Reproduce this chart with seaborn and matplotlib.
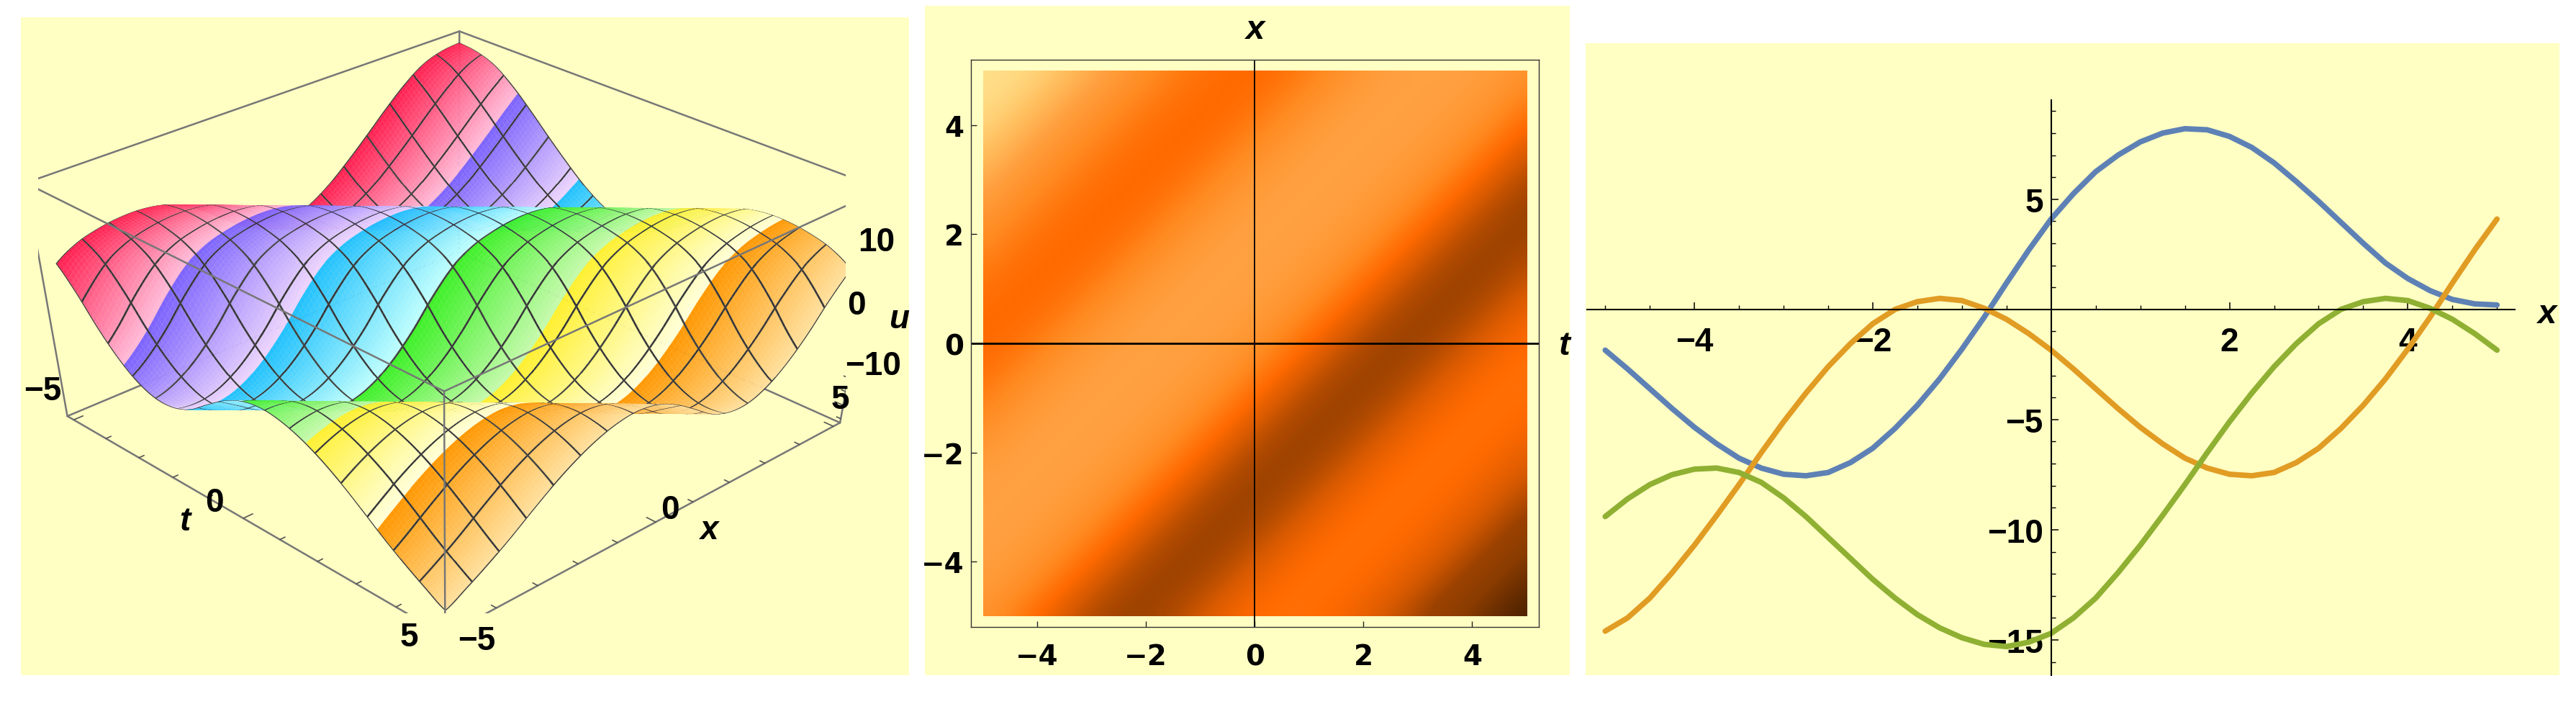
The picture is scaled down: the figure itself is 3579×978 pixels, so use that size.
import numpy as np
import pandas as pd
import matplotlib.pyplot as plt
import seaborn as sns
from matplotlib.colors import LinearSegmentedColormap, to_rgb
from matplotlib.patches import Rectangle
from mpl_toolkits.mplot3d import Axes3D

W, H = 3579, 979

# curves of the right panel, read at x = -5, -4.75, ... 5
x_vals = [-5 + 0.25 * i for i in range(41)]
u_blue = [-1.85, -2.7, -3.6, -4.5, -5.35, -6.1, -6.75, -7.2, -7.48, -7.55, -7.4, -6.95, -6.3, -5.4, -4.35, -3.15, -1.8, -0.35, 1.2, 2.7, 4.1,
          5.25, 6.25, 7.0, 7.6, 8.0, 8.2, 8.15, 7.85, 7.35, 6.65, 5.8, 4.9, 3.95, 3.0, 2.1, 1.4, 0.85, 0.45, 0.25, 0.2]
u_orange = [-14.6, -14.0, -13.1, -11.95, -10.7, -9.35, -7.95, -6.5, -5.1, -3.8, -2.6, -1.55, -0.65, 0.0, 0.35, 0.5, 0.4, 0.05, -0.45, -1.1, -1.85,
            -2.7, -3.6, -4.5, -5.35, -6.1, -6.75, -7.2, -7.48, -7.55, -7.4, -6.95, -6.3, -5.4, -4.35, -3.15, -1.8, -0.35, 1.2, 2.7, 4.1]
u_green = [-9.4, -8.6, -7.95, -7.5, -7.25, -7.2, -7.4, -7.85, -8.55, -9.4, -10.35, -11.3, -12.25, -13.1, -13.85, -14.45, -14.9, -15.2, -15.3, -15.1, -14.7,
           -14.0, -13.1, -11.95, -10.7, -9.35, -7.95, -6.5, -5.1, -3.8, -2.6, -1.55, -0.65, 0.0, 0.35, 0.5, 0.4, 0.05, -0.45, -1.1, -1.85]

# u along s = x - t, read at s = -10, -9.5, ... 10
profile_s = [-10 + 0.5 * i for i in range(41)]
profile_u = [-10.4, -8.8, -7.0, -5.0, -2.8, -0.7, 1.1, 2.5, 3.4, 3.7, 3.2, 1.9, 0.0, -2.0, -3.1, -3.2, -2.2, -0.2, 2.6, 6.0, 8.8,
             10.4, 11.2, 11.6, 11.6, 11.1, 9.9, 7.9, 5.6, 3.7, 2.8, 3.0, 4.1, 5.8, 8.0, 10.4, 12.9, 15.2, 17.0, 17.9, 18.2]

heat_ticks = [-4, -2, 0, 2, 4]
curve_xticks = [-4, -2, 2, 4]
curve_yticks = [-15, -10, -5, 5]
box_ticks = [-5, 0, 5]

stripe_start = ['#ff1e50', '#7d64ff', '#1ec0ff', '#3cf028', '#fff032', '#ff9600']
stripe_end = ['#ffbedc', '#ebd4ff', '#c0ffff', '#c8fab0', '#ffffd8', '#ffe1a0']

heat_levels = [-10.4, -6, -3.2, 0, 3, 7, 11.4, 15, 18.2]
heat_colors = ['#4a2000', '#8a3c00', '#9c4200', '#d85a00', '#ff6a00', '#ff8a20', '#ffa040', '#ffc060', '#ffe08a']

PANEL = '#ffffc3'
sns.set_theme(style='white')
plt.rcParams['font.family'] = ['Liberation Sans', 'DejaVu Sans']
plt.rcParams['font.weight'] = 'bold'

fig = plt.figure(figsize=(W / 100, H / 100), dpi=100)


def rect(l, t, r, b):
    return [l / W, 1 - b / H, (r - l) / W, (b - t) / H]


def panel(l, t, r, b):
    x, y, w, h = rect(l, t, r, b)
    fig.add_artist(Rectangle((x, y), w, h, transform=fig.transFigure, color=PANEL, lw=0, zorder=-1))


def ptext(px, py, s, size=33, **kw):
    kw.setdefault('fontweight', 'bold')
    fig.text(px / W, 1 - py / H, s, fontsize=size, ha='center', va='center', color='black', **kw)


def profile_at(q):
    # smooth rendering between the read values of the profile
    p = np.array(profile_u)
    pos = (np.asarray(q) + 10) / 0.5
    i = np.clip(np.floor(pos).astype(int), 0, len(p) - 2)
    f = pos - i
    p0, p1, p2, p3 = p[np.maximum(i - 1, 0)], p[i], p[i + 1], p[np.minimum(i + 2, len(p) - 1)]
    return 0.5 * (2 * p1 + (p2 - p0) * f + (2 * p0 - 5 * p1 + 4 * p2 - p3) * f ** 2 + (3 * p1 - p0 - 3 * p2 + p3) * f ** 3)


panel(29, 25, 1263, 939)
panel(1285, 9, 2181, 939)
panel(2203, 61, 3556, 939)

# ---- left: 3D surface
ax3 = fig.add_axes(rect(53, 29, 1175, 853), projection='3d', computed_zorder=False)
ax3.apply_aspect = lambda position=None: None
ax3.patch.set_alpha(0)
ax3.set_axis_off()
ax3.set_proj_type('persp', focal_length=0.55)
ax3.view_init(elev=38, azim=-44)
ax3.set_box_aspect((1, 1, 0.70), zoom=1.09)
u_lo, u_hi = -12.6, 19
lim = 5.2
ax3.set_xlim(-lim, lim)
ax3.set_ylim(-lim, lim)
ax3.set_zlim(u_lo, u_hi)

mesh = np.linspace(-5, 5, 17)
delta = 0.014
grid = np.unique(np.concatenate([np.linspace(-5, 5, 141), mesh - delta, mesh + delta]))
grid = grid[(grid >= -5) & (grid <= 5)]
T, X = np.meshgrid(grid, grid)
Z = profile_at(X - T)

mid = 0.5 * (grid[:-1] + grid[1:])
Tc, Xc = np.meshgrid(mid, mid)
starts = np.array([to_rgb(c) for c in stripe_start])
ends = np.array([to_rgb(c) for c in stripe_end])
pos = np.clip((Tc + 5) / 10 * 6, 0, 5.9999)
idx = pos.astype(int)
frac = (pos - idx)[..., None]
fc = starts[idx] * (1 - frac) + ends[idx] * frac
is_mesh_t = np.min(np.abs(Tc[..., None] - mesh), axis=-1) < delta
is_mesh_x = np.min(np.abs(Xc[..., None] - mesh), axis=-1) < delta
fc[is_mesh_t | is_mesh_x] = (0.2, 0.2, 0.22)
fc = np.dstack([fc, np.ones(fc.shape[:2])])
ax3.plot_surface(T, X, Z, facecolors=fc, rstride=1, cstride=1, shade=False, linewidth=0.15, zorder=2)


def edge(a, b, z):
    ax3.plot([a[0], b[0]], [a[1], b[1]], [a[2], b[2]], color='#777777', lw=1.8, zorder=z)


# t, x corners: near = (lim, -lim), far = (-lim, lim)
for (t0, x0), (t1, x1), back in [((-lim, -lim), (-lim, lim), True), ((-lim, lim), (lim, lim), True),
                                 ((-lim, -lim), (lim, -lim), False), ((lim, -lim), (lim, lim), False)]:
    edge((t0, x0, u_lo), (t1, x1, u_lo), 1 if back else 3)
    edge((t0, x0, u_hi), (t1, x1, u_hi), 1 if back else 3)
edge((-lim, lim, u_lo), (-lim, lim, u_hi), 1)
edge((-lim, -lim, u_lo), (-lim, -lim, u_hi), 3)
edge((lim, lim, u_lo), (lim, lim, u_hi), 3)
edge((lim, -lim, u_lo), (lim, -lim, u_hi), 3)

for v in range(-5, 6):
    major = v in box_ticks
    n = 0.22 if major else 0.12
    ax3.plot([v, v], [-lim, -lim + n], [u_lo, u_lo], color='#555555', lw=1.2, zorder=3)
    ax3.plot([lim - n, lim], [v, v], [u_lo, u_lo], color='#555555', lw=1.2, zorder=3)
for v in range(-12, 19, 2):
    n = 0.2 if v % 10 == 0 else 0.1
    ax3.plot([lim - n, lim], [lim, lim], [v, v], color='#555555', lw=1.2, zorder=3)

ptext(59, 544, '\u22125')
ptext(298, 699, '0')
ptext(568, 886, '5')
ptext(257, 725, 't', fontstyle='italic')
ptext(662, 891, '\u22125')
ptext(931, 709, '0')
ptext(1167, 556, '5')
ptext(985, 737, 'x', fontstyle='italic')
ptext(1218, 337, '10')
ptext(1190, 425, '0')
ptext(1213, 509, '\u221210')
ptext(1249, 444, 'u', fontstyle='italic')

# ---- middle: density map
ax2 = fig.add_axes(rect(1349, 84, 2137.5, 872))
ax2.set_facecolor('none')
cmap = LinearSegmentedColormap.from_list(
    'sunset', [((v - heat_levels[0]) / (heat_levels[-1] - heat_levels[0]), c) for v, c in zip(heat_levels, heat_colors)])
u_grid = [[profile_u[ix - it + 20] for it in range(21)] for ix in range(21)]
im = ax2.imshow(u_grid, extent=(-5.25, 5.25, -5.25, 5.25), origin='lower', cmap=cmap,
                vmin=heat_levels[0], vmax=heat_levels[-1], interpolation='bicubic', aspect='auto')
im.set_clip_path(Rectangle((-5, -5), 10, 10, transform=ax2.transData))
ax2.set_xlim(-5.22, 5.22)
ax2.set_ylim(-5.2, 5.2)
ax2.axhline(0, color='black', lw=2)
ax2.axvline(0, color='black', lw=1.3)
ax2.set_xticks(heat_ticks)
ax2.set_yticks(heat_ticks)
ax2.set_xticklabels([str(v).replace('-', '\u2212') for v in heat_ticks], family='DejaVu Sans', fontweight='bold', fontsize=28, color='black')
ax2.set_yticklabels([str(v).replace('-', '\u2212') for v in heat_ticks], family='DejaVu Sans', fontweight='bold', fontsize=28, color='black')
ax2.tick_params(direction='in', length=6, width=1, pad=16, color='#222222', bottom=True, left=True)
ax2.tick_params(axis='y', pad=7)
for sp in ax2.spines.values():
    sp.set_linewidth(1)
    sp.set_color('#333333')
ptext(1743.6, 42, 'x', size=34, fontstyle='italic')
ptext(2173, 481, 't', size=34, fontstyle='italic')

# ---- right: three curves
ax1 = fig.add_axes(rect(2203, 61, 3556, 939))
ax1.set_facecolor('none')
df = pd.DataFrame({'x': x_vals * 3,
                   'u': u_blue + u_orange + u_green,
                   'curve': ['blue'] * 41 + ['orange'] * 41 + ['green'] * 41})
sns.lineplot(data=df, x='x', y='u', hue='curve', palette=['#5e81b5', '#e19c24', '#8fb032'],
             linewidth=5.5, legend=False, ax=ax1)
ax1.set_xlim(-5.22, 5.70)
ax1.set_ylim(-16.6, 12.08)
ax1.set_xlabel('')
ax1.set_ylabel('')
for side in ['top', 'right']:
    ax1.spines[side].set_visible(False)
ax1.spines['left'].set_position(('data', 0))
ax1.spines['bottom'].set_position(('data', 0))
ax1.spines['left'].set_bounds(-16.6, 9.5)
ax1.spines['bottom'].set_bounds(-5.2, 5.2)
for side in ['left', 'bottom']:
    ax1.spines[side].set_color('black')
    ax1.spines[side].set_linewidth(1.5)
ax1.set_xticks(curve_xticks)
ax1.set_yticks(curve_yticks)
ax1.set_xticks([v * 0.5 for v in range(-10, 11) if v * 0.5 not in curve_xticks and v != 0], minor=True)
ax1.set_yticks([v for v in range(-16, 10) if v not in curve_yticks and v != 0], minor=True)
ax1.set_xticklabels([str(v).replace('-', '\u2212') for v in curve_xticks], fontsize=33, fontweight='bold', color='black')
ax1.set_yticklabels([str(v).replace('-', '\u2212') for v in curve_yticks], fontsize=33, fontweight='bold', color='black')
ax1.tick_params(which='major', direction='in', length=7, width=1.1, color='black', bottom=True, left=True)
ax1.tick_params(which='minor', direction='in', length=4, width=1, color='black', bottom=True, left=True)
ax1.tick_params(axis='x', which='major', pad=17)
ax1.tick_params(axis='y', which='major', pad=8)
ptext(3538, 437, 'x', size=34, fontstyle='italic')

fig.savefig('out.png', dpi=100)
